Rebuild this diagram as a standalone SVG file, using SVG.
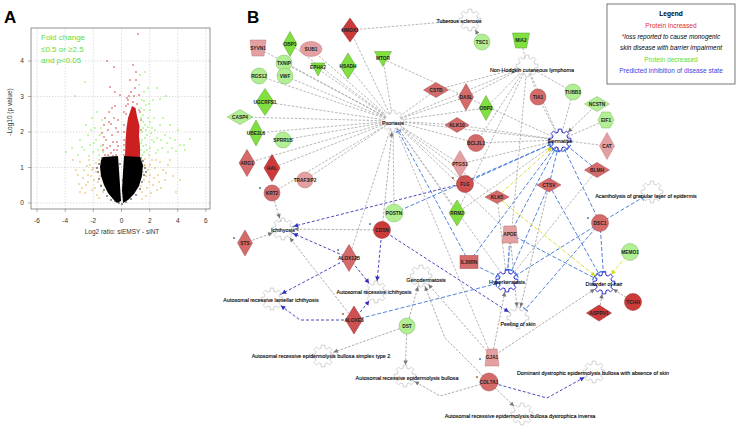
<svg xmlns="http://www.w3.org/2000/svg" width="738" height="431" viewBox="0 0 738 431">
<style>
.t{font-family:"Liberation Sans",Arial,sans-serif}
.ax{font-family:"Liberation Sans",Arial,sans-serif;font-size:6.5px;fill:#333;text-anchor:middle}
.grid{stroke:#c8c8c8;stroke-width:.6;stroke-dasharray:1.5 1.5}
.n text{font-family:"Liberation Sans",Arial,sans-serif;font-weight:bold;font-size:4.8px;fill:#222;text-anchor:middle}
.fl{font-family:"Liberation Sans",Arial,sans-serif;font-size:5.4px;fill:#000;stroke:#000;stroke-width:.12;text-anchor:middle}
.e{fill:none;stroke:#9a9a9a;stroke-width:.7;stroke-dasharray:2.5 1.5}
.ea{fill:none;stroke:#8a8a8a;stroke-width:.7;stroke-dasharray:2.5 1.5;marker-end:url(#ag)}
.eb{fill:none;stroke:#3c74d4;stroke-width:.9;stroke-dasharray:4 2;marker-end:url(#bb)}
.ed{fill:none;stroke:#3434b4;stroke-width:.9;stroke-dasharray:3 2;marker-end:url(#ad)}
.ey{fill:none;stroke:#e0e03c;stroke-width:1;stroke-dasharray:4 2;marker-end:url(#ay)}
.gear{fill:#fff;stroke:#c4c4c4;stroke-width:.8}
.gb{fill:#fff;stroke:#2f2fd0;stroke-width:1}
.gs{fill:#80e040;stroke:#5a9e30;stroke-width:.5}
.gl{fill:#b2ee94;stroke:#7cbc5c;stroke-width:.5}
.rd{fill:#cc3a3a;stroke:#922828;stroke-width:.5}
.rm{fill:#d46a6a;stroke:#a44a4a;stroke-width:.5}
.rl{fill:#e4a0a0;stroke:#be7a7a;stroke-width:.5}
.ast{font-family:"Liberation Sans",Arial,sans-serif;font-size:7px;fill:#e02020}
.dk{fill:none;stroke:#000;stroke-width:1.5;stroke-linecap:round}
.dr{fill:none;stroke:#cc2020;stroke-width:1.5;stroke-linecap:round}
.dg{fill:none;stroke:#70ee30;stroke-width:1.5;stroke-linecap:round}
.do{fill:none;stroke:#e0a830;stroke-width:1.5;stroke-linecap:round}
</style>
<defs>
<path id="gear" d="M7.76,-1.94 L10.86,-1.72 L10.86,1.72 L7.76,1.94 L6.86,4.12 L8.9,6.47 L6.47,8.9 L4.12,6.86 L1.94,7.76 L1.72,10.86 L-1.72,10.86 L-1.94,7.76 L-4.12,6.86 L-6.47,8.9 L-8.9,6.47 L-6.86,4.12 L-7.76,1.94 L-10.86,1.72 L-10.86,-1.72 L-7.76,-1.94 L-6.86,-4.12 L-8.9,-6.47 L-6.47,-8.9 L-4.12,-6.86 L-1.94,-7.76 L-1.72,-10.86 L1.72,-10.86 L1.94,-7.76 L4.12,-6.86 L6.47,-8.9 L8.9,-6.47 L6.86,-4.12 Z"/>
<marker id="ag" markerUnits="userSpaceOnUse" orient="auto" refX="0" refY="0" markerWidth="1" markerHeight="1" style="overflow:visible"><path d="M-11,0 L-15.5,-2.2 L-15.5,2.2 Z" fill="#777"/></marker>
<marker id="ad" markerUnits="userSpaceOnUse" orient="auto" refX="0" refY="0" markerWidth="1" markerHeight="1" style="overflow:visible"><path d="M-11,0 L-15.5,-2.4 L-15.5,2.4 Z" fill="#3030c0"/></marker>
<marker id="ay" markerUnits="userSpaceOnUse" orient="auto" refX="0" refY="0" markerWidth="1" markerHeight="1" style="overflow:visible"><path d="M-11,0 L-15.5,-2.4 L-15.5,2.4 Z" fill="#d8d820"/></marker>
<marker id="bb" markerUnits="userSpaceOnUse" orient="auto" refX="0" refY="0" markerWidth="1" markerHeight="1" style="overflow:visible"><path d="M-11.5,-3 L-11.5,3" stroke="#3c74d4" stroke-width="1.1"/></marker>
</defs>
<rect width="738" height="431" fill="#fff"/>

<!-- Panel A -->
<g id="panelA">
<text x="4" y="23" class="t" font-size="17" font-weight="bold">A</text>
<g>
<line class="grid" x1="37" y1="28" x2="37" y2="209"/>
<line class="grid" x1="65.2" y1="28" x2="65.2" y2="209"/>
<line class="grid" x1="93.3" y1="28" x2="93.3" y2="209"/>
<line class="grid" x1="121.5" y1="28" x2="121.5" y2="209"/>
<line class="grid" x1="149.7" y1="28" x2="149.7" y2="209"/>
<line class="grid" x1="177.7" y1="28" x2="177.7" y2="209"/>
<line class="grid" x1="205.9" y1="28" x2="205.9" y2="209"/>
<line class="grid" x1="31" y1="203" x2="210" y2="203"/>
<line class="grid" x1="31" y1="167.5" x2="210" y2="167.5"/>
<line class="grid" x1="31" y1="132" x2="210" y2="132"/>
<line class="grid" x1="31" y1="96.5" x2="210" y2="96.5"/>
<line class="grid" x1="31" y1="61" x2="210" y2="61"/>
</g>
<path d="M37,209v3M65.2,209v3M93.3,209v3M121.5,209v3M149.7,209v3M177.7,209v3M205.9,209v3M28,203h3M28,167.5h3M28,132h3M28,96.5h3M28,61h3" stroke="#777" stroke-width=".6"/>
<text class="ax" x="22" y="205.3">0</text>
<text class="ax" x="22" y="169.8">1</text>
<text class="ax" x="22" y="134.3">2</text>
<text class="ax" x="22" y="98.8">3</text>
<text class="ax" x="22" y="63.3">4</text>
<text class="ax" x="37" y="222.5">-6</text>
<text class="ax" x="65.2" y="222.5">-4</text>
<text class="ax" x="93.3" y="222.5">-2</text>
<text class="ax" x="121.5" y="222.5">0</text>
<text class="ax" x="149.7" y="222.5">2</text>
<text class="ax" x="177.7" y="222.5">4</text>
<text class="ax" x="205.9" y="222.5">6</text>
<text class="ax" x="122" y="234" font-size="7">Log2 ratio: siEMSY - siNT</text>
<text class="ax" font-size="7" transform="translate(12,112) rotate(-90)">-Log10 (p value)</text>
<text class="t" x="41" y="40" font-size="8" fill="#66dd33">Fold change</text>
<text class="t" x="41" y="51.5" font-size="8" fill="#66dd33">≤0.5 or ≥2.5</text>
<text class="t" x="41" y="63" font-size="8" fill="#66dd33">and p&lt;0.05</text>
<!-- scatter -->
<path class="do" d="M80 162h0M84 170h0M88 175h0M90 165h0M94 180h0M96 172h0M99 160h0M101 185h0M86 185h0M92 190h0M97 195h0M102 168h0M83 178h0M89 160h0M95 188h0M100 176h0M79 184h0M85 193h0M73 160h0M76 170h0M80 192h0M98 182h0M93 168h0M87 166h0M103 192h0M91 176h0M82 188h0M104 163h0M96 163h0M88 182h0M142 160h0M145 165h0M148 170h0M150 175h0M144 180h0M147 188h0M152 160h0M155 168h0M158 175h0M160 162h0M163 170h0M165 180h0M142 192h0M146 196h0M153 185h0M157 190h0M168 165h0M170 160h0M161 188h0M176 192h0M180 180h0M143 172h0M149 182h0M154 178h0M141 186h0M145 159h0M151 193h0M159 182h0M166 173h0M144 166h0M173 176h0M142 199h0M146 176h0M150 165h0M156 160h0M99 198h0M92 170h0M78 175h0"/>
<path class="dg" d="M75 96h0M85 82h0M72 148h0M80 140h0M84 150h0M88 135h0M90 145h0M93 152h0M95 128h0M96 140h0M98 150h0M100 135h0M101 146h0M102 120h0M92 118h0M86 125h0M78 155h0M97 112h0M99 155h0M103 152h0M89 156h0M94 143h0M82 147h0M101 128h0M91 130h0M66 152h0M140 75h0M145 72h0M157 88h0M160 99h0M166 96h0M142 100h0M146 105h0M143 115h0M148 118h0M150 110h0M145 125h0M152 128h0M142 132h0M147 135h0M155 130h0M160 125h0M165 135h0M170 138h0M175 140h0M180 145h0M185 150h0M142 140h0M146 145h0M150 148h0M154 142h0M158 150h0M162 148h0M168 152h0M144 152h0M149 155h0M141 150h0M143 122h0M152 140h0M157 138h0M163 118h0M170 125h0M172 148h0M178 130h0M184 145h0M153 100h0M141 108h0M144 92h0M148 88h0M141 118h0M143 128h0M145 138h0M147 150h0M150 122h0M151 133h0M156 153h0M161 140h0M167 143h0M176 151h0M190 139h0M139 85h0M143 146h0M148 127h0M149 104h0M154 118h0M144 110h0M141 143h0M142 155h0M146 130h0M144 101h0"/>
<path style="fill:#cc2020;stroke:none" d="M125,157 L140,157 L140,146 L139,136 L139.5,126 L137,116 L135.5,108 L132,106 L130,112 L128,118 L126.5,128 L125.5,140 Z"/>
<path class="dr" d="M138 34h0M107 61h0M114 67h0M133 65h0M136 72h0M130 80h0M110 87h0M115 92h0M120 95h0M131 92h0M134 96h0M128 100h0M133 102h0M137 104h0M126 106h0M139 110h0M109 112h0M114 118h0M104 125h0M108 130h0M112 135h0M116 128h0M106 140h0M110 146h0M114 150h0M117 142h0M103 150h0M108 155h0M116 155h0M105 118h0M112 108h0M118 132h0M107 148h0M111 153h0M113 142h0M117 150h0M104 137h0M109 122h0M124 112h0M124 125h0M124 140h0M124 150h0M127 98h0M135 88h0M139 95h0M103 145h0M102 133h0M118 120h0M111 124h0M115 106h0M136 80h0M105 155h0M113 156h0M118 146h0M128 104h0M126 114h0M141 130h0M141 120h0M140 112h0M124 132h0M124 145h0M124 155h0M129 96h0"/>
<path fill="#000" d="M103,157 L118,156 L119,170 L120,185 L121,201 L117,203 L113,199 L108,193 L104,185 L101,176 L100,167 L101,160 Z M124,156 L140,157 L143,165 L142,176 L139,186 L134,194 L128,200 L123,203 L122,190 L123,172 Z"/>
<path class="dk" d="M99 164h0M98 172h0M99 179h0M101 186h0M104 190h0M107 196h0M111 200h0M102 158h0M143 161h0M145 168h0M144 175h0M142 182h0M140 189h0M136 195h0M131 199h0M126 202h0M119 203h0M122 204h0M115 201h0M141 158h0M118 178h0M123 180h0M120 164h0M97 168h0M146 172h0"/>
<rect x="31" y="28" width="179" height="181" fill="none" stroke="#777" stroke-width=".8"/>
</g>

<!-- Panel B -->
<text x="247" y="23" class="t" font-size="17" font-weight="bold">B</text>

<g id="legend">
<rect x="607" y="4" width="128" height="80" fill="#fff" stroke="#555" stroke-width=".8"/>
<text class="t" x="671" y="16" font-size="6.6" font-weight="bold" text-anchor="middle">Legend</text>
<text class="t" x="671" y="27.5" font-size="6.6" fill="#e03030" text-anchor="middle">Protein increased</text>
<text class="t" x="671" y="39" font-size="6.4" font-style="italic" text-anchor="middle"><tspan fill="#e02020">*</tspan>loss reported to cause monogenic</text>
<text class="t" x="671" y="50" font-size="6.4" font-style="italic" text-anchor="middle">skin disease with barrier impairment</text>
<text class="t" x="671" y="61.5" font-size="6.6" fill="#66dd22" text-anchor="middle">Protein decreased</text>
<text class="t" x="671" y="73" font-size="6.6" fill="#4444dd" text-anchor="middle">Predicted inhibition of disease state</text>
</g>

<g id="connectors">
<!-- gray undirected -->
<path class="e" d="M393,121L258,48M393,121L290,44M393,121L311,49M393,121L284,63M393,121L318,69M393,121L350,30M393,121L348,66M393,121L383,59M393,121L259,76M393,121L285,76M393,121L265,102M393,121L240,117M393,121L256,133M393,121L283,140M393,121L247,163M393,121L272,168M393,121L305,180M393,121L272,193M393,121L436,90M393,121L466,97M393,121L486,108M393,121L457,125M393,121L476,143M393,121L460,164M393,121L465,183M393,121L394,213M393,121L457,213M393,121L497,197M393,121L349,258M393,121L560,140M393,121L527,66M393,121L492,357M393,121L507,281M393,121L510,234"/>
<path class="e" d="M470,20L350,30M527,66L521,40M527,66L436,90M527,66L466,97M527,66L486,108M527,66L538,97M527,66L573,92M527,66L476,143M527,66L457,213M527,66L507,281M527,66L560,140"/>
<path class="e" d="M560,140L383,59M560,140L538,97M560,140L573,92M560,140L606,120M560,140L607,146M560,140L476,143M560,140L457,125M560,140L460,164M560,140L457,213M507,281L597,170M507,281L497,197"/>
<!-- gray arrows -->
<line class="ea" x1="482" y1="42" x2="470" y2="20"/>
<line class="ea" x1="597" y1="104" x2="560" y2="140"/>
<line class="ea" x1="382" y1="230" x2="393" y2="121"/>
<line class="ea" x1="272" y1="193" x2="283" y2="229"/>
<line class="ea" x1="245" y1="243" x2="283" y2="229"/>
<line class="ea" x1="382" y1="230" x2="283" y2="229"/>
<line class="ea" x1="354" y1="320" x2="283" y2="229"/>
<line class="ea" x1="407" y1="326" x2="421" y2="276"/>
<line class="ea" x1="492" y1="357" x2="421" y2="276"/>
<path class="ea" d="M489,382 L445,338 L421,276"/>
<line class="ea" x1="407" y1="326" x2="323" y2="356"/>
<line class="ea" x1="407" y1="326" x2="405" y2="376"/>
<path class="ea" d="M489,382 L440,396 L405,376"/>
<line class="ea" x1="489" y1="382" x2="522" y2="414"/>
<line class="ea" x1="492" y1="357" x2="507" y2="281"/>
<line class="ea" x1="492" y1="357" x2="604" y2="283"/>
<line class="ea" x1="599" y1="313" x2="604" y2="283"/>
<line class="ea" x1="633" y1="302" x2="604" y2="283"/>
<line class="ea" x1="549" y1="185" x2="518" y2="318"/>
<line class="ea" x1="510" y1="234" x2="518" y2="318"/>
<!-- dark blue arrows -->
<line class="ed" x1="465" y1="183" x2="283" y2="229"/>
<line class="ed" x1="349" y1="258" x2="283" y2="229"/>
<line class="ed" x1="349" y1="258" x2="272" y2="299"/>
<line class="ed" x1="349" y1="258" x2="376" y2="292"/>
<path class="ed" d="M354,320 L300,320 L272,299"/>
<line class="ed" x1="354" y1="320" x2="376" y2="292"/>
<line class="ed" x1="382" y1="230" x2="376" y2="292"/>
<line class="ed" x1="382" y1="230" x2="518" y2="318"/>
<path class="ed" d="M489,382 L547,398 L594,372"/>
<!-- blue inhibition -->
<line class="eb" x1="469" y1="262" x2="393" y2="121"/>
<line class="eb" x1="465" y1="183" x2="560" y2="140"/>
<line class="eb" x1="394" y1="213" x2="560" y2="140"/>
<line class="eb" x1="597" y1="170" x2="560" y2="140"/>
<line class="eb" x1="549" y1="185" x2="560" y2="140"/>
<line class="eb" x1="600" y1="223" x2="560" y2="140"/>
<line class="eb" x1="510" y1="234" x2="560" y2="140"/>
<line class="eb" x1="469" y1="262" x2="560" y2="140"/>
<line class="eb" x1="469" y1="262" x2="507" y2="281"/>
<line class="eb" x1="510" y1="234" x2="507" y2="281"/>
<line class="eb" x1="549" y1="185" x2="507" y2="281"/>
<line class="eb" x1="600" y1="223" x2="507" y2="281"/>
<line class="eb" x1="354" y1="320" x2="507" y2="281"/>
<line class="eb" x1="510" y1="234" x2="604" y2="283"/>
<line class="eb" x1="549" y1="185" x2="604" y2="283"/>
<line class="eb" x1="600" y1="223" x2="604" y2="283"/>
<line class="eb" x1="600" y1="223" x2="652" y2="192"/>
<line class="eb" x1="600" y1="223" x2="518" y2="318"/>
<!-- yellow arrows -->
<line class="ey" x1="497" y1="197" x2="560" y2="140"/>
<line class="ey" x1="497" y1="197" x2="604" y2="283"/>
<line class="ey" x1="630" y1="252" x2="604" y2="283"/>
</g>

<g id="functions">
<g id="f-tuberous"><use href="#gear" class="gear" x="470" y="20"/><text class="fl" x="459" y="23">Tuberous sclerosis</text></g>
<g id="f-nhcl"><use href="#gear" class="gear" x="527" y="66"/><text class="fl" x="532" y="72">Non-Hodgkin cutaneous lymphoma</text></g>
<g id="f-psoriasis"><use href="#gear" class="gear" x="393" y="121"/><text class="fl" x="393" y="125">Psoriasis</text></g>
<g id="f-dermatitis"><use href="#gear" class="gb" x="560" y="140"/><text class="fl" x="560" y="143">Dermatitis</text></g>
<g id="f-acantholysis"><use href="#gear" class="gear" x="652" y="192"/><text class="fl" x="646" y="198">Acantholysis of granular layer of epidermis</text></g>
<g id="f-ichthyosis"><use href="#gear" class="gear" x="283" y="229"/><text class="fl" x="283" y="232">Ichthyosis</text></g>
<g id="f-genodermatosis"><use href="#gear" class="gear" x="421" y="276"/><text class="fl" x="426" y="282">Genodermatosis</text></g>
<g id="f-hyperkeratosis"><use href="#gear" class="gb" x="507" y="281"/><text class="fl" x="507" y="284">Hyperkeratosis</text></g>
<g id="f-hair"><use href="#gear" class="gb" x="604" y="283"/><text class="fl" x="604" y="286">Disorder of hair</text></g>
<g id="f-arli"><use href="#gear" class="gear" x="272" y="299"/><text class="fl" x="271" y="302">Autosomal recessive lamellar ichthyosis</text></g>
<g id="f-ari"><use href="#gear" class="gear" x="376" y="292"/><text class="fl" x="374" y="294">Autosomal recessive ichthyosis</text></g>
<g id="f-peeling"><use href="#gear" class="gear" x="518" y="318"/><text class="fl" x="518" y="326">Peeling of skin</text></g>
<g id="f-arebs2"><use href="#gear" class="gear" x="323" y="356"/><text class="fl" x="321" y="358">Autosomal recessive epidermolysis bullosa simplex type 2</text></g>
<g id="f-ddeb"><use href="#gear" class="gear" x="594" y="372"/><text class="fl" x="593" y="375">Dominant dystrophic epidermolysis bullosa with absence of skin</text></g>
<g id="f-areb"><use href="#gear" class="gear" x="405" y="376"/><text class="fl" x="407" y="380">Autosomal recessive epidermolysis bullosa</text></g>
<g id="f-arebdi"><use href="#gear" class="gear" x="522" y="414"/><text class="fl" x="520" y="418">Autosomal recessive epidermolysis bullosa dystrophica inversa</text></g>
</g>

<g id="genes">
<g id="SYVN1" class="n"><polygon class="rl" points="250,40 266,40 264,56 252,56"/><text x="258" y="49.7">SYVN1</text></g>
<g id="OBP1" class="n"><polygon class="gs" points="290,31.5 297,44 290,56.5 283,44"/><text x="290" y="45.7">OBP1</text></g>
<g id="SUB1" class="n"><ellipse class="rl" cx="311" cy="49" rx="11" ry="7.5"/><text x="311" y="50.7">SUB1</text></g>
<g id="HMOX1" class="n"><polygon class="rd" points="350,18 358.5,30 350,42 341.5,30"/><text x="350" y="31.7">HMOX1</text></g>
<g id="TXNIP" class="n"><circle class="gl" cx="284" cy="63" r="8"/><text x="284" y="64.7">TXNIP</text></g>
<g id="EPHA2" class="n"><polygon class="gs" points="311,63 325,63 318,76"/><text x="318" y="68.7">EPHA2</text></g>
<g id="HSADH" class="n"><polygon class="gs" points="348,53 356,66 348,79 340,66"/><text x="348" y="67.7">HSADH</text></g>
<g id="MTOR" class="n"><polygon class="gs" points="374.5,51.5 391.5,51.5 383,66.5"/><text x="383" y="59.7">MTOR</text></g>
<g id="TSC1" class="n"><circle class="gl" cx="482" cy="42" r="8"/><text x="482" y="43.7">TSC1</text></g>
<g id="MIA2" class="n"><polygon class="gs" points="512.5,33 529.5,33 526.5,48 515.5,48"/><text x="521" y="41.7">MIA2</text></g>
<g id="RGS12" class="n"><circle class="gl" cx="259" cy="76" r="8"/><text x="259" y="77.7">RGS12</text></g>
<g id="VWF" class="n"><circle class="gl" cx="285" cy="76" r="8"/><text x="285" y="77.7">VWF</text></g>
<g id="UGCRFS1" class="n"><polygon class="gs" points="265,88.5 274,102 265,115.5 256,102"/><text x="265" y="103.7">UGCRFS1</text></g>
<g id="CASP4" class="n"><polygon class="gl" points="227,117 240,109.5 253,117 240,124.5"/><text x="240" y="118.7">CASP4</text></g>
<g id="UBE2L6" class="n"><polygon class="gs" points="256,120 263,133 256,146 249,133"/><text x="256" y="134.7">UBE2L6</text></g>
<g id="SPRR1B" class="n"><circle class="gl" cx="283" cy="140" r="8"/><text x="283" y="141.7">SPRR1B</text></g>
<g id="ARG1" class="n"><polygon class="rm" points="247,149.5 255,163 247,176.5 239,163"/><text x="247" y="164.7">ARG1</text></g>
<g id="HAL" class="n"><polygon class="rd" points="272,154.5 280,168 272,181.5 264,168"/><text x="272" y="169.7">HAL</text></g>
<g id="TRAF3IP2" class="n"><circle class="rl" cx="305" cy="180" r="8"/><text x="305" y="181.7">TRAF3IP2</text></g>
<g id="KRT2" class="n"><circle class="rm" cx="272" cy="193" r="8"/><text x="272" y="194.7">KRT2</text><text class="ast" x="260" y="191">*</text></g>
<g id="CSTB" class="n"><polygon class="rm" points="423.5,90 436,82.5 448.5,90 436,97.5"/><text x="436" y="91.7">CSTB</text></g>
<g id="DASL" class="n"><polygon class="rm" points="466,83.5 473.5,97 466,110.5 458.5,97"/><text x="466" y="98.7">DASL</text></g>
<g id="OBP2" class="n"><polygon class="gs" points="486,95.5 493,108 486,120.5 479,108"/><text x="486" y="109.7">OBP2</text></g>
<g id="TIA1" class="n"><circle class="rm" cx="538" cy="97" r="8"/><text x="538" y="98.7">TIA1</text></g>
<g id="KLK10" class="n"><polygon class="rm" points="445,125 457,117.5 469,125 457,132.5"/><text x="457" y="126.7">KLK10</text></g>
<g id="TUBB3" class="n"><circle class="gl" cx="573" cy="92" r="8"/><text x="573" y="93.7">TUBB3</text></g>
<g id="NCSTN" class="n"><polygon class="gl" points="584.5,104 597,96.5 609.5,104 597,111.5"/><text x="597" y="105.7">NCSTN</text></g>
<g id="EIF1" class="n"><polygon class="gl" points="602,112 610,112 614,120 610,128 602,128 598,120"/><text x="606" y="121.7">EIF1</text></g>
<g id="CAT" class="n"><polygon class="rl" points="607,132.5 614.5,146 607,159.5 599.5,146"/><text x="607" y="147.7">CAT</text></g>
<g id="BCL2L1" class="n"><circle class="rm" cx="476" cy="143" r="8.5"/><text x="476" y="144.7">BCL2L1</text></g>
<g id="PTGS1" class="n"><polygon class="rl" points="460,150.5 468,164 460,177.5 452,164"/><text x="460" y="165.7">PTGS1</text></g>
<g id="BLMH" class="n"><polygon class="rm" points="584.5,170 597,162.5 609.5,170 597,177.5"/><text x="597" y="171.7">BLMH</text></g>
<g id="FLG" class="n"><circle class="rd" cx="465" cy="184" r="8.5" style="fill:#cf5050"/><text x="465" y="185.7">FLG</text><text class="ast" x="453" y="181">*</text></g>
<g id="CTSV" class="n"><polygon class="rm" points="537,185 549,178 561,185 549,192"/><text x="549" y="186.7">CTSV</text></g>
<g id="KLK5" class="n"><polygon class="rm" points="485,197 497,190.5 509,197 497,203.5"/><text x="497" y="198.7">KLK5</text></g>
<g id="POSTN" class="n"><circle class="gl" cx="394" cy="213" r="9"/><text x="394" y="214.7">POSTN</text></g>
<g id="RRM2" class="n"><polygon class="gs" points="457,200 465,213 457,226 449,213"/><text x="457" y="214.7">RRM2</text></g>
<g id="CDSN" class="n"><circle class="rd" cx="382" cy="230" r="8.5"/><text x="382" y="231.7">CDSN</text><text class="ast" x="370" y="227">*</text></g>
<g id="DSC1" class="n"><circle class="rm" cx="600" cy="223" r="8.5"/><text x="600" y="224.7">DSC1</text><text class="ast" x="588" y="221">*</text></g>
<g id="APOE" class="n"><polygon class="rl" points="504,226 516,226 518,243 502,243"/><text x="510" y="235.7">APOE</text></g>
<g id="STS" class="n"><polygon class="rm" points="245,230 252.5,243 245,256 237.5,243"/><text x="245" y="244.7">STS</text><text class="ast" x="234" y="241">*</text></g>
<g id="MEMO1" class="n"><circle class="gl" cx="630" cy="252" r="8.5"/><text x="630" y="253.7">MEMO1</text></g>
<g id="ALOX12B" class="n"><polygon class="rm" points="349,244.5 357,258 349,271.5 341,258"/><text x="349" y="259.7">ALOX12B</text><text class="ast" x="338" y="253">*</text></g>
<g id="IL36RN" class="n"><rect class="rm" x="460" y="255.5" width="18" height="13"/><text x="469" y="263.7">IL36RN</text></g>
<g id="TCHH" class="n"><circle class="rd" cx="633" cy="302" r="8.5"/><text x="633" y="303.7">TCHH</text></g>
<g id="ASPRV1" class="n"><polygon class="rd" points="586.5,313 599,305 611.5,313 599,321"/><text x="599" y="314.7">ASPRV1</text></g>
<g id="ALOXE3" class="n"><polygon class="rd" points="354,306 362.5,320 354,334 345.5,320" style="fill:#cf5050"/><text x="354" y="321.7">ALOXE3</text><text class="ast" x="343" y="317">*</text></g>
<g id="DST" class="n"><circle class="gl" cx="407" cy="326" r="8"/><text x="407" y="327.7">DST</text></g>
<g id="GJA1" class="n"><polygon class="rl" points="487,349 497,349 499,366 485,366"/><text x="492" y="359.2">GJA1</text><text class="ast" x="480" y="362">*</text></g>
<g id="COL7A1" class="n"><circle class="rm" cx="489" cy="382" r="9"/><text x="489" y="383.7">COL7A1</text><text class="ast" x="477" y="380">*</text></g>
</g>
</svg>
